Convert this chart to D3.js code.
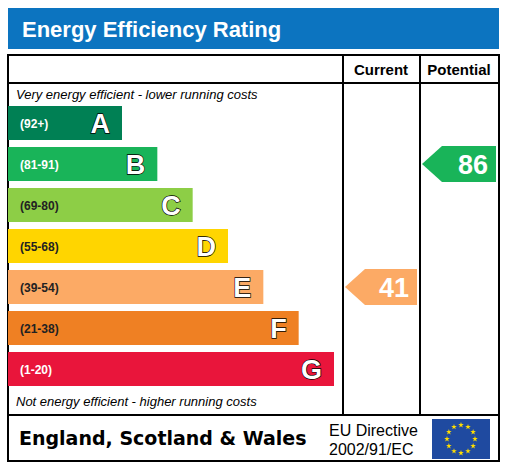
<!DOCTYPE html>
<html><head><meta charset="utf-8">
<script src="https://cdn.jsdelivr.net/npm/d3@7"></script>
<style>body{margin:0;background:#fff}</style></head>
<body><svg id="c" width="509" height="467"></svg>
<script>
const letters=["A","B","C","D","E","F","G"];
const ranges=["(92+)","(81-91)","(69-80)","(55-68)","(39-54)","(21-38)","(1-20)"];
const bandColors=["#008054","#19b459","#8dce46","#ffd500","#fcaa65","#ef8023","#e9153b"];
const rangeTextColors=["#fff","#fff","#222","#222","#222","#222","#fff"];
const mins=[92,81,69,55,39,21,1];
const currentScore=41, potentialScore=86;

const svg=d3.select("#c");
const F="Liberation Sans, Arial, sans-serif";
svg.append("rect").attr("x",8).attr("y",8).attr("width",491).attr("height",41).attr("fill","#0c74c0");
svg.append("text").attr("x",22).attr("y",37).attr("fill","#fff").attr("font-family",F).attr("font-weight","bold").attr("font-size",22).text("Energy Efficiency Rating");
const g=svg.append("g").attr("fill","none").attr("stroke","#000").attr("stroke-width",2);
g.append("rect").attr("x",8).attr("y",55).attr("width",491).attr("height",406);
g.append("line").attr("x1",8).attr("x2",499).attr("y1",83).attr("y2",83);
g.append("line").attr("x1",8).attr("x2",499).attr("y1",415).attr("y2",415);
g.append("line").attr("x1",343).attr("x2",343).attr("y1",55).attr("y2",415);
g.append("line").attr("x1",420).attr("x2",420).attr("y1",55).attr("y2",415);
svg.append("text").attr("x",381).attr("y",75).attr("text-anchor","middle").attr("font-family",F).attr("font-weight","bold").attr("font-size",15).text("Current");
svg.append("text").attr("x",459).attr("y",75).attr("text-anchor","middle").attr("font-family",F).attr("font-weight","bold").attr("font-size",15).text("Potential");
svg.append("text").attr("x",16).attr("y",99).attr("font-family",F).attr("font-style","italic").attr("font-size",13).text("Very energy efficient - lower running costs");
svg.append("text").attr("x",16).attr("y",406).attr("font-family",F).attr("font-style","italic").attr("font-size",13).text("Not energy efficient - higher running costs");

const y=d3.scaleBand().domain(letters).range([106,386]).paddingInner(7/41).paddingOuter(0);
const w=d3.scaleLinear().domain([0,6]).range([114,326]);
const bands=svg.selectAll("g.b").data(letters).join("g");
bands.append("rect").attr("x",8).attr("y",d=>y(d)).attr("width",(d,i)=>w(i)).attr("height",y.bandwidth()).attr("fill",(d,i)=>bandColors[i]);
bands.append("text").attr("x",20).attr("y",d=>y(d)+y.bandwidth()/2+5).attr("font-family",F).attr("font-weight","bold").attr("font-size",12).attr("fill",(d,i)=>rangeTextColors[i]).text((d,i)=>ranges[i]);
bands.append("text").attr("x",(d,i)=>8+w(i)-12).attr("y",d=>y(d)+y.bandwidth()/2+10).attr("text-anchor","end").attr("font-family",F).attr("font-weight","bold").attr("font-size",27).attr("fill","#fff").attr("stroke","#000").attr("stroke-width",1.3).attr("paint-order","stroke").text(d=>d);

function bandOf(s){return mins.findIndex(m=>s>=m);}
function arrow(score,x0,x1){
  const i=bandOf(score), yc=y(letters[i])+y.bandwidth()/2, h=36;
  svg.append("path").attr("d",`M${x0},${yc} L${x0+20},${yc-h/2} L${x1},${yc-h/2} L${x1},${yc+h/2} L${x0+20},${yc+h/2} Z`).attr("fill",bandColors[i]);
  svg.append("text").attr("x",x1-8).attr("y",yc+10).attr("text-anchor","end").attr("font-family",F).attr("font-weight","bold").attr("font-size",27).attr("fill","#fff").text(score);
}
arrow(currentScore,345,417);
arrow(potentialScore,422,496);

svg.append("text").attr("x",19).attr("y",445).attr("font-family","DejaVu Sans, sans-serif").attr("font-weight","bold").attr("font-size",19).text("England, Scotland & Wales");
svg.append("text").attr("x",329).attr("y",436).attr("font-family",F).attr("font-size",16).text("EU Directive");
svg.append("text").attr("x",329).attr("y",455).attr("font-family",F).attr("font-size",16).text("2002/91/EC");
svg.append("rect").attr("x",432).attr("y",419).attr("width",58).attr("height",40).attr("fill","#1f4aa0");
d3.range(12).forEach(k=>{const a=k/12*2*Math.PI;
  svg.append("path").attr("d",d3.symbol(d3.symbolStar,10)()).attr("fill","#ffdd00").attr("transform",`translate(${461+14*Math.sin(a)},${439-14*Math.cos(a)})`);});
</script></body></html>
